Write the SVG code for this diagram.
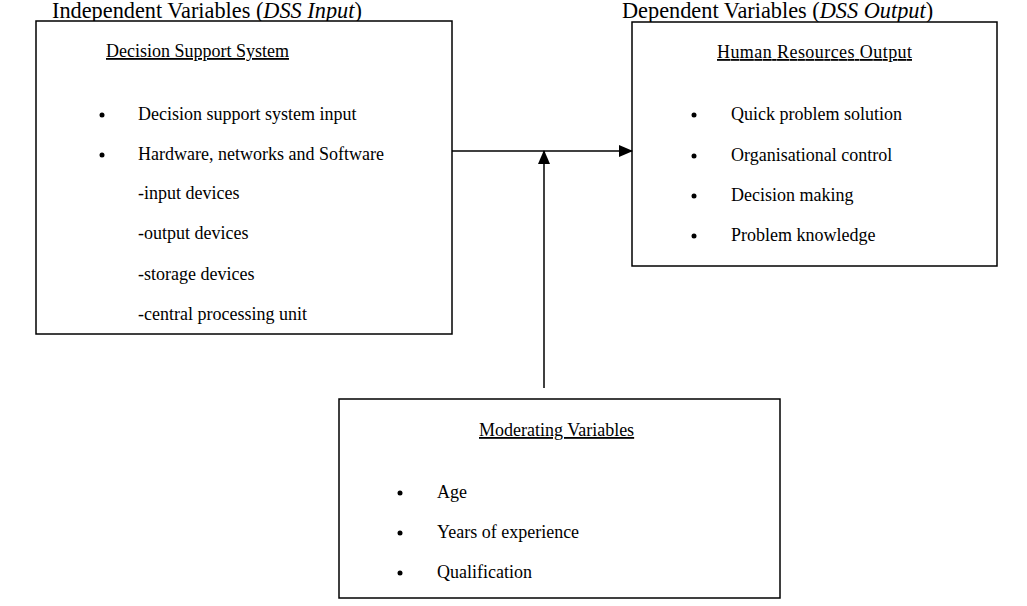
<svg xmlns="http://www.w3.org/2000/svg" width="1027" height="606" viewBox="0 0 1027 606">
<defs>
<marker id="ah" markerWidth="14" markerHeight="12" refX="13" refY="6" orient="auto" markerUnits="userSpaceOnUse">
<path d="M0,0 L14,6 L0,12 Z" fill="#000"/>
</marker>
<style>
.box{fill:#fff;stroke:#000;stroke-width:1.5}
.t{font-family:"Liberation Serif","Times New Roman",serif;font-size:18px;fill:#000}
.h{text-decoration:underline}
.title{font-family:"Liberation Serif","Times New Roman",serif;font-size:22.3px;fill:#000}
.c{stroke:#000;stroke-width:1.5;fill:none}
</style>
</defs>
<rect width="1027" height="606" fill="#fff"/>
<text class="title" x="52" y="18">Independent Variables (<tspan font-style="italic">DSS Input</tspan>)</text>
<text class="title" x="622" y="18">Dependent Variables (<tspan font-style="italic">DSS Output</tspan>)</text>
<g id="dss">
<rect class="box" x="36" y="21" width="416" height="313"/>
<text class="t h" x="106" y="57">Decision Support System</text>
<circle cx="102" cy="115" r="2.5"/>
<text class="t" x="138" y="120">Decision support system input</text>
<circle cx="102" cy="155" r="2.5"/>
<text class="t" x="138" y="160">Hardware, networks and Software</text>
<text class="t" x="138" y="199">-input devices</text>
<text class="t" x="138" y="239">-output devices</text>
<text class="t" x="138" y="280">-storage devices</text>
<text class="t" x="138" y="320">-central processing unit</text>
</g>
<g id="hr">
<rect class="box" x="632" y="22" width="365" height="244"/>
<text class="t h" x="717" y="58" textLength="195">Human Resources Output</text>
<circle cx="694" cy="115" r="2.5"/>
<text class="t" x="731" y="120">Quick problem solution</text>
<circle cx="694" cy="156" r="2.5"/>
<text class="t" x="731" y="161">Organisational control</text>
<circle cx="694" cy="196" r="2.5"/>
<text class="t" x="731" y="201">Decision making</text>
<circle cx="694" cy="236" r="2.5"/>
<text class="t" x="731" y="241">Problem knowledge</text>
</g>
<g id="mod">
<rect class="box" x="339" y="399" width="441" height="199"/>
<text class="t h" x="479" y="436">Moderating Variables</text>
<circle cx="400" cy="493" r="2.5"/>
<text class="t" x="437" y="498">Age</text>
<circle cx="400" cy="533" r="2.5"/>
<text class="t" x="437" y="538">Years of experience</text>
<circle cx="400" cy="573" r="2.5"/>
<text class="t" x="437" y="578">Qualification</text>
</g>
<g id="connectors">
<line class="c" x1="452" y1="151" x2="632" y2="151" marker-end="url(#ah)"/>
<line class="c" x1="544" y1="388" x2="544" y2="151" marker-end="url(#ah)"/>
</g>
</svg>
